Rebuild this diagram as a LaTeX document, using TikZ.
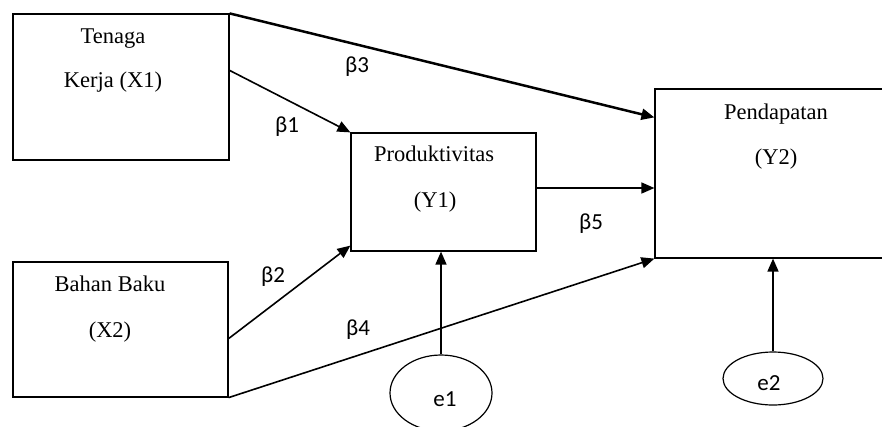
\documentclass[tikz,border=0pt]{standalone}
\usepackage{fontspec}
\setmainfont{Liberation Serif}
\newfontfamily\lblfont{Carlito}
\usetikzlibrary{arrows.meta,shapes.geometric}
\begin{document}
\begin{tikzpicture}[x=1pt,y=-1pt,
  boxnode/.style={draw,line width=1.2pt,rectangle,inner sep=0pt},
  txt/.style={font=\fontsize{22.5}{26}\selectfont,anchor=base,inner sep=0pt},
  lbl/.style={font=\lblfont\fontsize{23}{26}\selectfont,anchor=base,inner sep=0pt},
  arr/.style={line width=1.6pt,-{Triangle[length=13pt,width=11pt]}},
  errnode/.style={draw,line width=1.2pt,ellipse,inner sep=0pt}]
\useasboundingbox (0,0) rectangle (882,426);
\clip (0,0) rectangle (882,426);
% boxes
\node[boxnode,minimum width=216pt,minimum height=146pt] (X1) at (121,87) {};
\node[boxnode,minimum width=215pt,minimum height=135pt] (X2) at (120.5,329.5) {};
\node[boxnode,minimum width=185pt,minimum height=118pt] (Y1) at (443.5,192) {};
\node[boxnode,minimum width=245pt,minimum height=169pt] (Y2) at (777.5,173.5) {};
% error ellipses
\node[errnode,minimum width=102pt,minimum height=76pt] (e1) at (441,393) {};
\node[errnode,minimum width=100pt,minimum height=53pt] (e2) at (773,378.5) {};
% texts
\node[txt] (t1) at (113,43) {Tenaga};
\node[txt] (t2) at (113,87) {Kerja (X1)};
\node[txt] (t3) at (110,291) {Bahan Baku};
\node[txt] (t4) at (110,337) {(X2)};
\node[txt] (t5) at (434,161) {Produktivitas};
\node[txt] (t6) at (435,207) {(Y1)};
\node[txt] (t7) at (776,119) {Pendapatan};
\node[txt] (t8) at (776,164) {(Y2)};
\node[lbl] (le1) at (445,406) {e1};
\node[lbl] (le2) at (769,390) {e2};
% beta labels
\node[lbl] (b1) at (287,132) {β1};
\node[lbl] (b2) at (273,282) {β2};
\node[lbl] (b3) at (357,72) {β3};
\node[lbl] (b4) at (358,335) {β4};
\node[lbl] (b5) at (591,229) {β5};
% connector end points
\coordinate (p3) at ([yshift=-29pt]Y2.north west);
\coordinate (p1) at ([yshift=-57pt]X1.north east);
\coordinate (p2s) at ([yshift=59pt]X2.south east);
\coordinate (p2e) at ([yshift=6pt]Y1.south west);
\coordinate (p5) at ([yshift=4pt]Y1.east);
% connectors
\draw[arr,line width=2.5pt] (X1.north east) -- (p3);
\draw[arr] (p1) -- (Y1.north west);
\draw[arr] (p2s) -- (p2e);
\draw[arr] (X2.south east) -- (Y2.south west);
\draw[arr] (p5) -- (Y2.west |- p5);
\draw[arr] (e1.north) -- (Y1.south -| e1.north);
\draw[arr] (e2.north) -- (Y2.south -| e2.north);
\end{tikzpicture}
\end{document}
